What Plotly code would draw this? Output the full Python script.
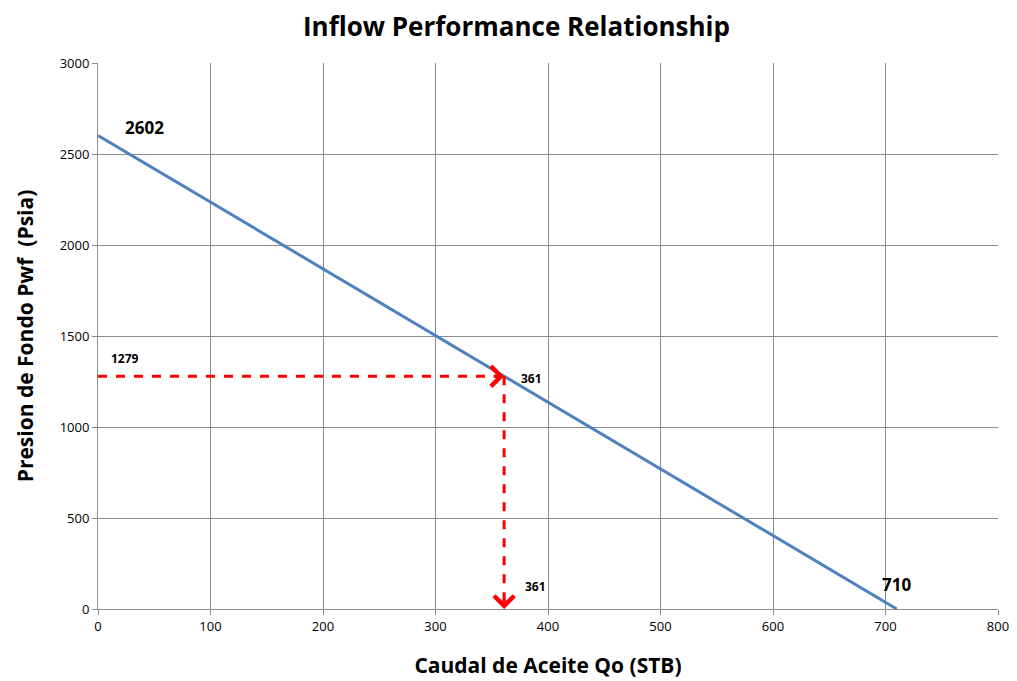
import plotly.graph_objects as go

# Data
q_ipr = [0, 710]
pwf_ipr = [2602, 0]
op_q = 361
op_pwf = 1279
x_ticks = [0, 100, 200, 300, 400, 500, 600, 700, 800]
y_ticks = [0, 500, 1000, 1500, 2000, 2500, 3000]

FONT = "Open Sans"
RED = "#ff0000"
BLUE = "#4f81bd"

fig = go.Figure()
fig.add_trace(go.Scatter(x=q_ipr, y=pwf_ipr, mode="lines",
                         line=dict(color=BLUE, width=3), hoverinfo="skip"))
# dashed guides
fig.add_trace(go.Scatter(x=[0, op_q - 3], y=[op_pwf, op_pwf], mode="lines",
                         line=dict(color=RED, width=3, dash="dash"), hoverinfo="skip"))
fig.add_trace(go.Scatter(x=[op_q, op_q], y=[op_pwf, 20], mode="lines",
                         line=dict(color=RED, width=3, dash="dash"), hoverinfo="skip"))

# arrowheads (chevron)
fig.add_annotation(x=op_q, y=op_pwf, ax=-12, ay=0, xref="x", yref="y",
                   showarrow=True, arrowhead=4, arrowsize=1.3, arrowwidth=3,
                   arrowcolor=RED, text="")
fig.add_annotation(x=op_q, y=0, ax=0, ay=-12, xref="x", yref="y",
                   showarrow=True, arrowhead=4, arrowsize=1.3, arrowwidth=3,
                   arrowcolor=RED, text="")

# labels
fig.add_annotation(x=22, y=2643, text="<b>%d</b>" % pwf_ipr[0], showarrow=False,
                   xanchor="left", yanchor="middle", font=dict(family=FONT, size=17, color="black"))
fig.add_annotation(x=710, y=137, text="<b>%d</b>" % q_ipr[1], showarrow=False,
                   xanchor="center", yanchor="middle", font=dict(family=FONT, size=17, color="black"))
fig.add_annotation(x=10, y=1379, text="<b>%d</b>" % op_pwf, showarrow=False,
                   xanchor="left", yanchor="middle", font=dict(family=FONT, size=12, color="black"))
fig.add_annotation(x=374, y=1264, text="<b>%d</b>" % op_q, showarrow=False,
                   xanchor="left", yanchor="middle", font=dict(family=FONT, size=12, color="black"))
fig.add_annotation(x=378, y=121, text="<b>%d</b>" % op_q, showarrow=False,
                   xanchor="left", yanchor="middle", font=dict(family=FONT, size=12, color="black"))

fig.update_layout(
    width=1017, height=681,
    margin=dict(l=90, r=27, t=55, b=80, autoexpand=False),
    paper_bgcolor="white", plot_bgcolor="white",
    showlegend=False,
    title=dict(text="<b>Inflow Performance Relationship</b>", x=0.5, xanchor="center",
               y=0.972, yanchor="middle",
               font=dict(family=FONT, size=26, color="black")),
    font=dict(family=FONT, size=13, color="black"),
)
fig.update_xaxes(range=[0, 800], tickvals=x_ticks, showgrid=True, gridcolor="#8c8c8c",
                 gridwidth=1, showline=True, linecolor="#8c8c8c", linewidth=1, mirror=False,
                 ticks="outside", ticklen=5, tickcolor="#8c8c8c", zeroline=False,
                 automargin=False,
                 title=dict(text="<b>Caudal de Aceite Qo (STB)</b>", standoff=24,
                            font=dict(family=FONT, size=21, color="black")),
                 tickfont=dict(family=FONT, size=13, color="black"))
fig.update_yaxes(range=[0, 3000], tickvals=y_ticks, showgrid=True, gridcolor="#8c8c8c",
                 gridwidth=1, showline=True, linecolor="#8c8c8c", linewidth=1,
                 ticks="outside", ticklen=5, tickcolor="#8c8c8c", zeroline=False,
                 automargin=False,
                 title=dict(text="<b>Presion de Fondo Pwf  (Psia)</b>", standoff=20,
                            font=dict(family=FONT, size=21, color="black")),
                 tickfont=dict(family=FONT, size=13, color="black"))

fig.write_html("out.html")
